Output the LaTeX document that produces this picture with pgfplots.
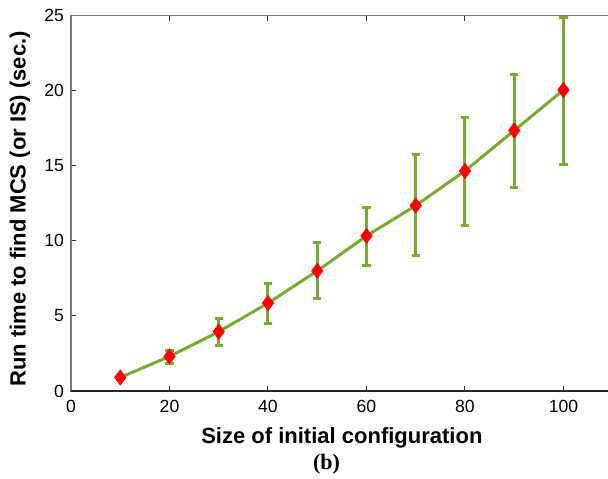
\documentclass[border=0pt]{standalone}
\usepackage{fontspec}
\setmainfont{Liberation Sans}
\newfontfamily\serifb{Liberation Serif}
\usepackage{pgfplots}
\pgfplotsset{compat=1.18}
\usepackage{pgfplotstable}
\definecolor{mgreen}{RGB}{119,172,48}
\definecolor{axgray}{RGB}{120,120,120}
\pgfplotstableread{
x y ep em
10 0.90 0.12 0.12
20 2.30 0.40 0.50
30 3.95 0.89 0.91
40 5.85 1.33 1.34
50 8.00 1.87 1.82
60 10.33 1.89 1.95
70 12.35 3.38 3.30
80 14.66 3.54 3.62
90 17.35 3.75 3.78
100 20.05 4.85 4.95
}\datatable
\begin{document}
\begin{tikzpicture}
\begin{axis}[
  scale only axis,
  width=270.85pt, height=187.65pt,
  xmin=0, xmax=110, ymin=0, ymax=25,
  xtick={0,20,40,60,80,100},
  ytick={0,5,10,15,20,25},
  tick align=inside,
  major tick length=2.5pt,
  tick style={black!80, line width=0.5pt},
  axis line style={axgray, line width=0.8pt},
  /pgf/number format/assume math mode=true,
  ticklabel style={font=\fontsize{8.8}{10}\selectfont},
  xticklabel style={yshift=-1pt},
  clip=false,
  xlabel={Size of initial configuration},
  ylabel={Run time to find MCS (or IS) (sec.)},
  every axis x label/.style={at={(rel axis cs:0.5,-0.1399)}, anchor=base, font=\bfseries\fontsize{11}{13}\selectfont},
  every axis y label/.style={at={(rel axis cs:-0.0941,0.485)}, anchor=center, rotate=90, font=\bfseries\fontsize{11}{13}\selectfont},
]
\draw[black!85, line width=0.8pt] (rel axis cs:0,0) -- (rel axis cs:1,0);
\addplot[mgreen, line width=1.5pt, forget plot,
  error bars/.cd, y dir=both, y explicit,
  error mark=-, error mark options={mgreen, line width=1.5pt, mark size=2.1pt, rotate=90},
  error bar style={mgreen, line width=1.5pt}]
  table[x=x, y=y, y error plus=ep, y error minus=em] {\datatable};
\addplot[only marks, mark=diamond*, mark size=3.75pt, red, mark options={fill=red, draw=red}]
  table[x=x, y=y] {\datatable};
\node[font=\serifb\bfseries\fontsize{11}{13}\selectfont, anchor=base] at (rel axis cs:0.4717,-0.2092) {(b)};
\coordinate (bbl) at (rel axis cs:-0.1311,-0.2345);
\coordinate (btr) at (rel axis cs:0.9913,1.0418);
\end{axis}
\pgfresetboundingbox
\path[use as bounding box] (bbl) rectangle (btr);
\end{tikzpicture}
\end{document}
